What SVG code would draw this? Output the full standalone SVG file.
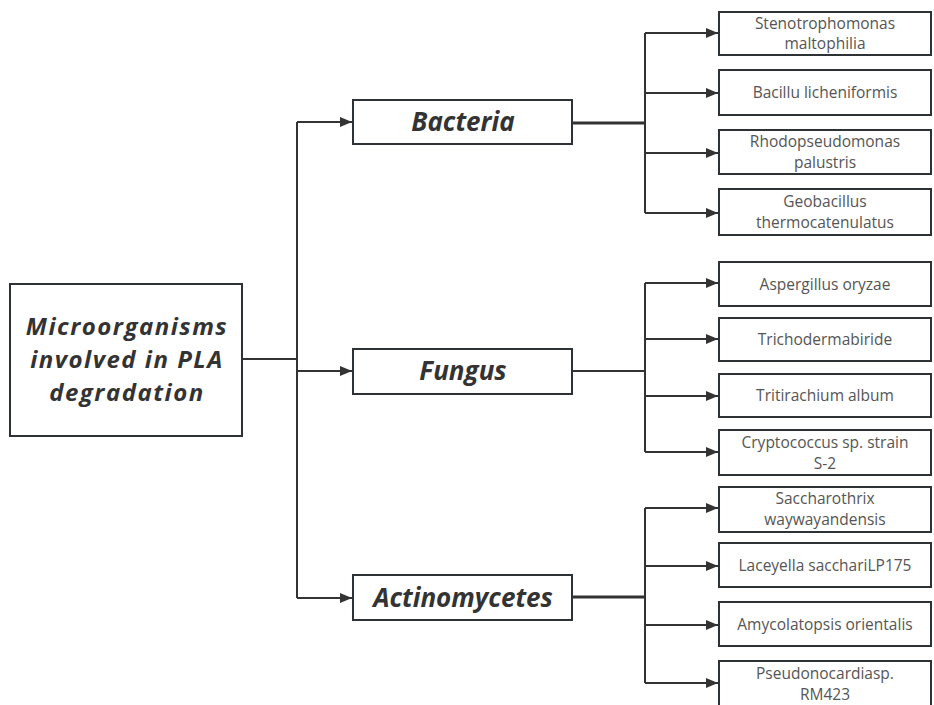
<svg xmlns="http://www.w3.org/2000/svg" width="934" height="705" viewBox="0 0 934 705">
<defs>
<style>
.box{fill:#fff;stroke:#2d3236;stroke-width:2}
.main{font-family:"Open Sans","Noto Sans",sans-serif;font-weight:bold;font-style:italic;fill:#333;text-anchor:middle}
.leaf{font-family:"Open Sans","Noto Sans",sans-serif;font-size:15.5px;fill:#555;text-anchor:middle}
.ln{fill:none;stroke:#333;stroke-width:2}
.thick{fill:none;stroke:#333;stroke-width:3}
</style>
<marker id="ah" viewBox="0 0 12 10" refX="12" refY="5" markerWidth="12" markerHeight="10" markerUnits="userSpaceOnUse" orient="auto">
<path d="M0,0 L12,5 L0,10 Z" fill="#333"/>
</marker>
</defs>
<rect width="934" height="705" fill="#fff"/>
<g id="connectors">
<path class="ln" d="M242,359 H297"/>
<path class="ln" d="M297,122 V598"/>
<path class="ln" d="M297,122 H352" marker-end="url(#ah)"/>
<path class="ln" d="M297,371 H352" marker-end="url(#ah)"/>
<path class="ln" d="M297,598 H352" marker-end="url(#ah)"/>
<path class="thick" d="M572,123 H645"/>
<path class="ln" d="M645,33 V213"/>
<path class="ln" d="M645,33 H718" marker-end="url(#ah)"/>
<path class="ln" d="M645,93 H718" marker-end="url(#ah)"/>
<path class="ln" d="M645,153 H718" marker-end="url(#ah)"/>
<path class="ln" d="M645,213 H718" marker-end="url(#ah)"/>
<path class="ln" d="M572,371 H645"/>
<path class="ln" d="M645,283 V452"/>
<path class="ln" d="M645,283 H718" marker-end="url(#ah)"/>
<path class="ln" d="M645,339 H718" marker-end="url(#ah)"/>
<path class="ln" d="M645,396 H718" marker-end="url(#ah)"/>
<path class="ln" d="M645,452 H718" marker-end="url(#ah)"/>
<path class="thick" d="M572,597 H645"/>
<path class="ln" d="M645,508 V683"/>
<path class="ln" d="M645,508 H718" marker-end="url(#ah)"/>
<path class="ln" d="M645,566 H718" marker-end="url(#ah)"/>
<path class="ln" d="M645,625 H718" marker-end="url(#ah)"/>
<path class="ln" d="M645,683 H718" marker-end="url(#ah)"/>
</g>
<g id="root">
<rect class="box" x="10" y="284" width="232" height="152"/>
<text class="main" font-size="24" letter-spacing="1.5" x="127" y="335">Microorganisms</text>
<text class="main" font-size="24" letter-spacing="1.5" x="127" y="368">involved in PLA</text>
<text class="main" font-size="24" letter-spacing="1.5" x="127" y="401">degradation</text>
</g>
<g id="bacteria">
<rect class="box" x="353" y="100" width="219" height="44"/>
<text class="main" font-size="26" x="463" y="131">Bacteria</text>
</g>
<g id="fungus">
<rect class="box" x="353" y="349" width="219" height="45"/>
<text class="main" font-size="26" x="463" y="380">Fungus</text>
</g>
<g id="actinomycetes">
<rect class="box" x="353" y="575" width="219" height="45"/>
<text class="main" font-size="26" x="463" y="607">Actinomycetes</text>
</g>
<g id="b1">
<rect class="box" x="719" y="12" width="212" height="43"/>
<text class="leaf" x="825" y="29">Stenotrophomonas</text>
<text class="leaf" x="825" y="49">maltophilia</text>
</g>
<g id="b2">
<rect class="box" x="719" y="70" width="212" height="45"/>
<text class="leaf" x="825" y="98">Bacillu licheniformis</text>
</g>
<g id="b3">
<rect class="box" x="719" y="130" width="212" height="44"/>
<text class="leaf" x="825" y="147">Rhodopseudomonas</text>
<text class="leaf" x="825" y="168">palustris</text>
</g>
<g id="b4">
<rect class="box" x="719" y="189" width="212" height="46"/>
<text class="leaf" x="825" y="207">Geobacillus</text>
<text class="leaf" x="825" y="228">thermocatenulatus</text>
</g>
<g id="f1">
<rect class="box" x="719" y="262" width="212" height="44"/>
<text class="leaf" x="825" y="290">Aspergillus oryzae</text>
</g>
<g id="f2">
<rect class="box" x="719" y="318" width="212" height="43"/>
<text class="leaf" x="825" y="345">Trichodermabiride</text>
</g>
<g id="f3">
<rect class="box" x="719" y="374" width="212" height="43"/>
<text class="leaf" x="825" y="401">Tritirachium album</text>
</g>
<g id="f4">
<rect class="box" x="719" y="430" width="212" height="45"/>
<text class="leaf" x="825" y="448">Cryptococcus sp. strain</text>
<text class="leaf" x="825" y="469">S-2</text>
</g>
<g id="a1">
<rect class="box" x="719" y="487" width="212" height="45"/>
<text class="leaf" x="825" y="504">Saccharothrix</text>
<text class="leaf" x="825" y="525">waywayandensis</text>
</g>
<g id="a2">
<rect class="box" x="719" y="543" width="212" height="44"/>
<text class="leaf" x="825" y="571">Laceyella sacchariLP175</text>
</g>
<g id="a3">
<rect class="box" x="719" y="602" width="212" height="44"/>
<text class="leaf" x="825" y="630">Amycolatopsis orientalis</text>
</g>
<g id="a4">
<rect class="box" x="719" y="661" width="212" height="46"/>
<text class="leaf" x="825" y="679">Pseudonocardiasp.</text>
<text class="leaf" x="825" y="700">RM423</text>
</g>
</svg>
